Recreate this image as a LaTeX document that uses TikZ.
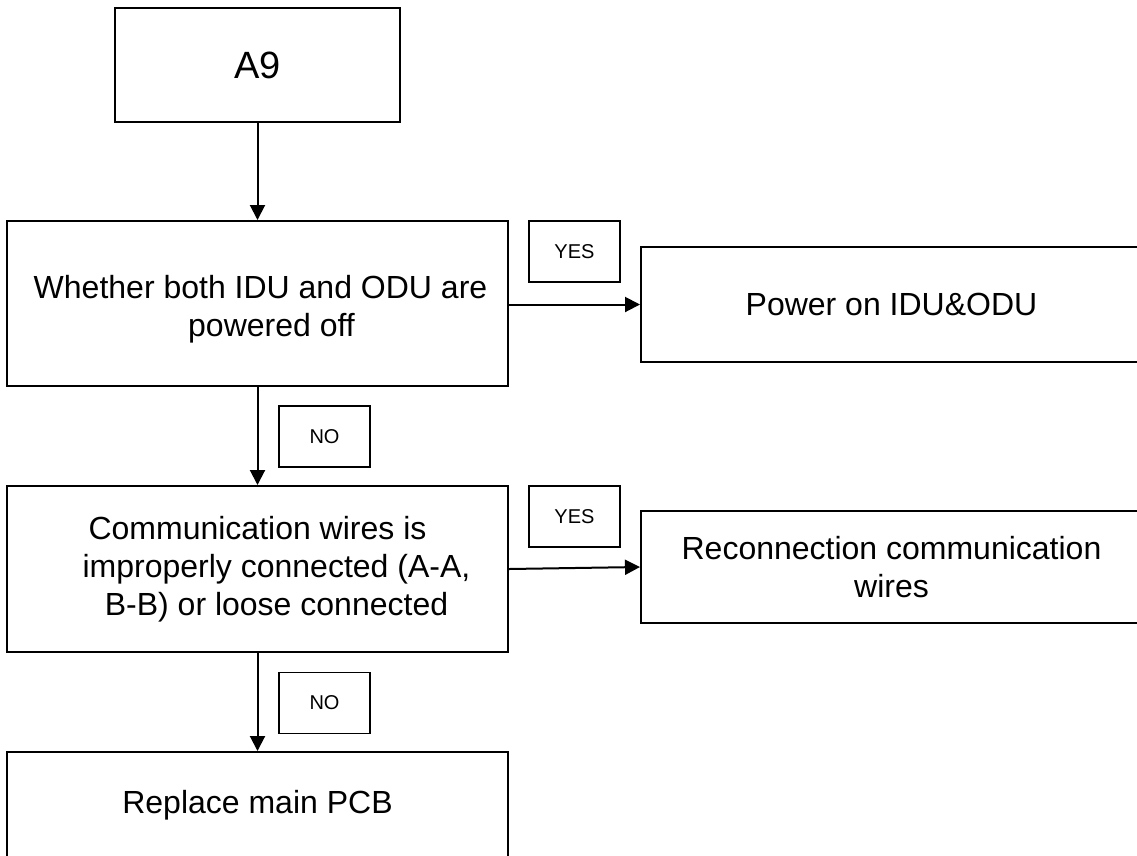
\documentclass[tikz,border=0pt]{standalone}
\usepackage{fontspec}
\setmainfont{Liberation Sans}
\usetikzlibrary{arrows.meta}
\begin{document}
\begin{tikzpicture}[x=1pt,y=-1pt,
  box/.style={draw, line width=2pt, minimum width=501pt, inner sep=0pt, align=center, font=\fontsize{32}{38}\selectfont},
  lbl/.style={draw, line width=1.8pt, minimum width=91pt, minimum height=61pt, inner sep=0pt, font=\fontsize{20}{24}\selectfont},
  arr/.style={line width=2pt, -{Triangle[length=15pt,width=15pt]}}]
\clip (0,0) rectangle (1137,855);
\fill[white] (0,0) rectangle (1137,855);
% boxes
\node[box, minimum width=285pt, minimum height=114pt, font=\fontsize{38}{44}\selectfont] (a9) at (257.5,65) {A9};
\node[box, minimum height=165pt] (q1) at (257.5,303.5) {\rule{0pt}{35pt}\hspace*{6pt}Whether both IDU and ODU are\\\hspace*{28pt}powered off};
\node[box, minimum height=115pt] (p1) at (891.5,304.5) {Power on IDU\&ODU};
\node[box, minimum height=166pt] (q2) at (257.5,569) {Communication wires is\\\hspace*{38pt}improperly connected (A-A,\\\hspace*{38pt}B-B) or loose connected};
\node[box, minimum height=112pt] (p2) at (891.5,567) {Reconnection communication\\wires};
\node[box, minimum height=106pt] (p3) at (257.5,805) {Replace main PCB};
% labels
\node[lbl] (y1) at (574.5,251.5) {YES};
\node[lbl] (n1) at (324.5,436.5) {NO};
\node[lbl] (y2) at (574.5,516.5) {YES};
\node[lbl] (n2) at (324.5,703) {NO};
% connectors
\draw[arr] (a9.south) -- (q1.north);
\draw[arr] (q1.east |- p1) -- (p1.west);
\draw[arr] (q1.south) -- (q2.north);
\draw[arr] (q2.east) -- (p2.west);
\draw[arr] (q2.south) -- (p3.north);
\end{tikzpicture}
\end{document}
